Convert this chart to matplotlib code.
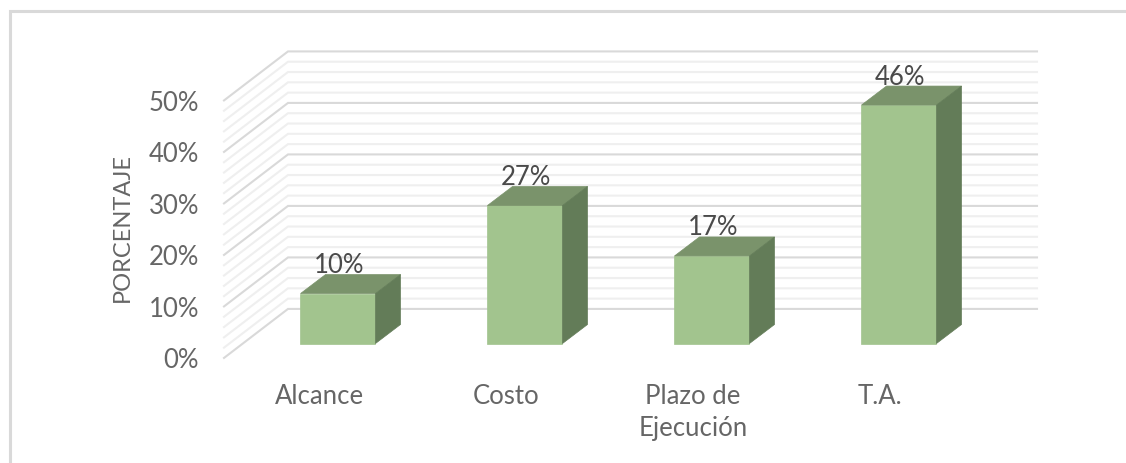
import matplotlib
matplotlib.use('Agg')
import matplotlib.pyplot as plt
from matplotlib.patches import Polygon
from matplotlib.lines import Line2D

categorias = ['Alcance', 'Costo', 'Plazo de\nEjecución', 'T.A.']
valores = [9.7, 26.8, 17, 46.3]
etiquetas = ['10%', '27%', '17%', '46%']
ticks_y = [0, 10, 20, 30, 40, 50]

plt.rcParams['font.family'] = ['Lato', 'DejaVu Sans']

W, H = 1126, 464
PX_X = 187.0   # px per category
PX_Y = 5.15    # px per percent
fig = plt.figure(figsize=(W / 100, H / 100), dpi=100, facecolor='white')
ax = fig.add_axes([0, 0, 1, 1])
ax.set_xlim(-338 / PX_X, (W - 338) / PX_X)
ax.set_ylim(-(H - 344.5) / PX_Y, 344.5 / PX_Y)
ax.axis('off')

# oblique depth, one unit = depth of a bar
DX = 25 / PX_X
DY = 19 / PX_Y
FRENTE = -0.76
FONDO = 1.82
FIN_X = (1037 - 338) / PX_X
ANCHO = 75 / PX_X


def proy(x, y, d):
    return x + d * DX, y + d * DY


# grid: wall + back lines, every 2%
for p in range(0, 52, 2):
    mayor = p % 10 == 0
    y0 = proy(0, p, FRENTE)[1]
    y1 = proy(0, p, FONDO)[1]
    x0 = (224 - 338) / PX_X
    x1 = (288 - 338) / PX_X
    ax.plot([x0, x1, FIN_X], [y0, y1, y1],
            color='#d9d9d9' if mayor else '#efefef', lw=1.5, zorder=1,
            solid_joinstyle='miter')

# bars
for i, v in enumerate(valores):
    izq, der = i - ANCHO / 2, i + ANCHO / 2
    frente = [(izq, 0), (der, 0), (der, v), (izq, v)]
    techo = [(izq, v), (der, v), proy(der, v, 1), proy(izq, v, 1)]
    lado = [(der, 0), proy(der, 0, 1), proy(der, v, 1), (der, v)]
    ax.add_patch(Polygon(frente, fc='#a2c48e', ec='#a2c48e', lw=0.5, zorder=3))
    ax.add_patch(Polygon(techo, fc='#7a936b', ec='#7a936b', lw=0.5, zorder=3))
    ax.add_patch(Polygon(lado, fc='#637c58', ec='#637c58', lw=0.5, zorder=3))
    ax.text(i + 0.005, v + 29 / PX_Y, etiquetas[i], ha='center', va='center',
            fontsize=18.5, color='#4a4a4a', zorder=4)

# y ticks
for t in ticks_y:
    ax.text((199 - 338) / PX_X, t + FRENTE * DY - 2 / PX_Y, f'{t}%', ha='right',
            va='center', fontsize=18.5, color='#666666')

# category labels
for i, c in enumerate(categorias):
    ax.text(i + FRENTE * DX, -39 / PX_Y, c, ha='center', va='top',
            fontsize=18.5, color='#666666', linespacing=1.38)

ax.text((122 - 338) / PX_X, (344.5 - 227) / PX_Y, 'PORCENTAJE', rotation=90,
        ha='center', va='center', fontsize=17, color='#666666')

# outer frame: only top and left
fig.add_artist(Line2D([9.5 / W, 9.5 / W, 1], [0, 1 - 11.5 / H, 1 - 11.5 / H],
                      color='#d9d9d9', lw=2.2, solid_joinstyle='miter'))

fig.savefig('out.png', dpi=100, facecolor='white')
